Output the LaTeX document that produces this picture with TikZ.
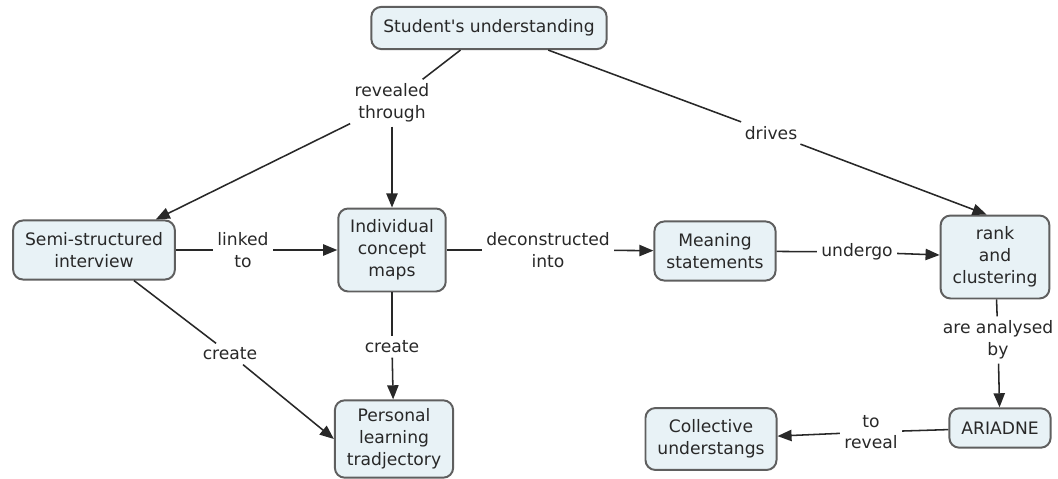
\documentclass[tikz,border=0pt]{standalone}
\usepackage{fontspec}
\setmainfont{DejaVu Sans}
\usetikzlibrary{arrows.meta}
\definecolor{boxfill}{RGB}{232,242,246}
\definecolor{boxline}{RGB}{95,95,95}
\definecolor{ink}{RGB}{40,40,40}
\begin{document}
\begin{tikzpicture}[x=0.025cm,y=-0.025cm,
  every node/.style={font=\fontsize{12.2}{15.5}\selectfont,text=ink,align=center},
  concept/.style={draw=boxline,fill=boxfill,line width=1.4pt,rounded corners=7pt,inner xsep=8.5pt,minimum height=42pt},
  phrase/.style={inner sep=3pt},
  link/.style={draw=ink,line width=1.1pt},
  linkto/.style={link,-{Triangle[length=10pt,width=8pt]}}]
\useasboundingbox (0,0) rectangle (1058,479);
% concepts
\node[concept,minimum height=30pt] (stu) at (489,28) {Student\textquotesingle s understanding};
\node[concept] (semi) at (94,250) {Semi-structured\\interview};
\node[concept,minimum height=59pt] (ind) at (392,250) {Individual\\concept\\maps};
\node[concept,minimum height=55pt] (pers) at (394,439) {Personal\\learning\\tradjectory};
\node[concept] (mean) at (715,251) {Meaning\\statements};
\node[concept,minimum height=59pt] (rank) at (995,257) {rank\\and\\clustering};
\node[concept,minimum height=28pt] (ari) at (1000,428) {ARIADNE};
\node[concept,minimum height=44pt] (coll) at (711,439) {Collective\\understangs};
% linking phrases
\node[phrase] (rev) at (392,103) {revealed\\through};
\node[phrase] (drv) at (771,133) {drives};
\node[phrase] (lnk) at (243,250) {linked\\to};
\node[phrase] (dec) at (548,250) {deconstructed\\into};
\node[phrase] (und) at (857,252) {undergo};
\node[phrase] (ana) at (998,340) {are analysed\\by};
\node[phrase] (trv) at (871,432) {to\\reveal};
\node[phrase] (crl) at (230,354) {create};
\node[phrase] (crm) at (392,347) {create};
% connectors
\draw[link] (stu) -- (rev);
\draw[linkto] (rev) -- (semi);
\draw[linkto] (rev) -- (ind);
\draw[link] (stu) -- (drv);
\draw[linkto] (drv) -- ([xshift=-6pt]rank.north);
\draw[link] (semi) -- (lnk);
\draw[linkto] (lnk) -- (ind);
\draw[link] (ind) -- (dec);
\draw[linkto] (dec) -- (mean);
\draw[link] (mean) -- (und);
\draw[linkto] (und) -- (rank);
\draw[link] (rank) -- (ana);
\draw[linkto] (ana) -- (ari);
\draw[link] (ari) -- (trv);
\draw[linkto] (trv) -- (coll);
\draw[link] (semi) -- (crl);
\draw[linkto] (crl) -- (pers.west);
\draw[link] (ind) -- (crm);
\draw[linkto] (crm) -- (pers);
\end{tikzpicture}
\end{document}
